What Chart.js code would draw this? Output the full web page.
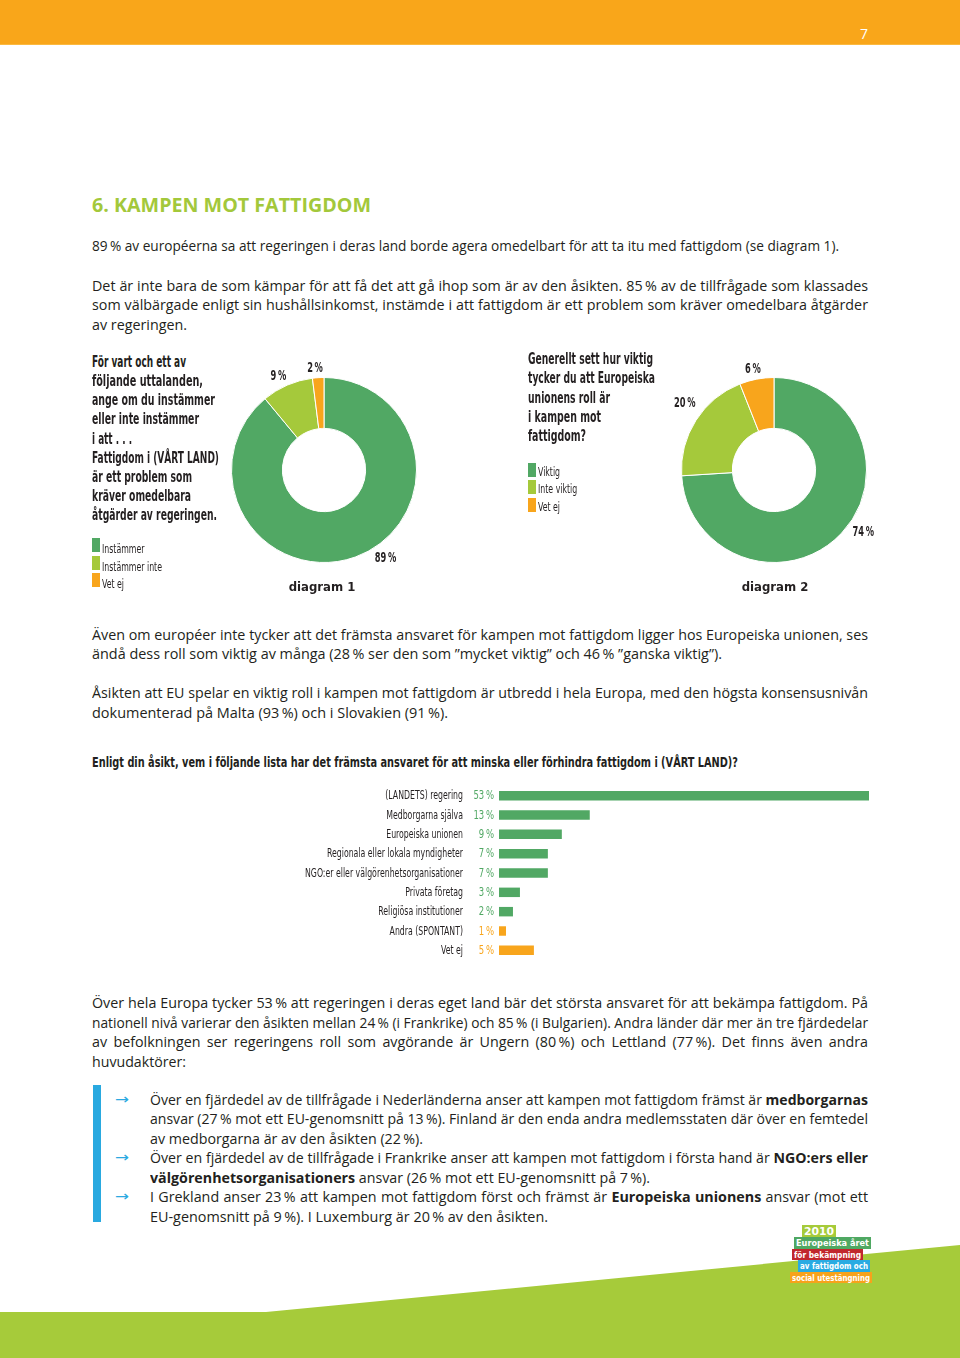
<!DOCTYPE html>
<html lang="sv">
<head>
<meta charset="utf-8">
<title>6. Kampen mot fattigdom</title>
<script src="https://cdn.jsdelivr.net/npm/chart.js@4.4.1/dist/chart.umd.min.js"></script>
<style>
html,body{margin:0;padding:0;background:#fff;}
#page{position:relative;width:960px;height:1358px;overflow:hidden;background:#fff;}
.ln{position:absolute;white-space:nowrap;font-family:'Open Sans',sans-serif;font-size:14.3px;line-height:19px;color:#231F20;}
.ln b{font-weight:700;}
.h{font-weight:700;font-size:19.5px;line-height:24px;color:#A3C83B;}
.q{font-family:'Liberation Sans Narrow','DejaVu Sans Condensed',sans-serif;font-stretch:condensed;font-weight:700;font-size:16px;line-height:19px;}
.t{font-family:'Liberation Sans Narrow','DejaVu Sans Condensed',sans-serif;font-stretch:condensed;font-weight:700;font-size:14.5px;}
.d{font-family:'Liberation Sans Narrow','DejaVu Sans Condensed',sans-serif;font-stretch:condensed;font-weight:700;font-size:13px;}
.lg{font-family:'Liberation Sans Narrow','DejaVu Sans Condensed',sans-serif;font-stretch:condensed;font-size:13px;line-height:15px;}
.ar{font-family:'DejaVu Sans',sans-serif;font-size:14px;color:#2BA9E1;}
.pn{color:#fff;font-size:14px;}
#topbar{position:absolute;left:0;top:0;width:960px;height:44px;background:#F9A61A;border-bottom:1px solid #FBB940;}
#ground{position:absolute;left:0;top:1240px;width:960px;height:118px;background:#A6CB3A;
  clip-path:polygon(0 72px,266px 72px,960px 5px,960px 118px,0 118px);}
#bluebar{position:absolute;left:93px;top:1085px;width:8px;height:137px;background:#29A9E0;}
.chartbox{position:absolute;}
.sw{position:absolute;width:8px;height:14px;}
.logo{position:absolute;color:#fff;font-family:'Liberation Sans Narrow','DejaVu Sans Condensed',sans-serif;font-stretch:condensed;font-weight:700;white-space:nowrap;overflow:hidden;}
.logo span{position:absolute;top:0;transform-origin:0 0;}
</style>
</head>
<body>
<div id="page">
  <div id="topbar"></div>
  <div id="ground"></div>
  <div id="bluebar"></div>
  <div class="chartbox" style="left:194px;top:345px;width:260px;height:250px;"><canvas id="donut1"></canvas></div>
  <div class="chartbox" style="left:644px;top:345px;width:260px;height:250px;"><canvas id="donut2"></canvas></div>
  <div class="chartbox" style="left:290px;top:786px;width:579px;height:174px;"><canvas id="bars"></canvas></div>
</div>
<script>
// ---------------- DATA ----------------
const donut1Labels = ['Instämmer', 'Instämmer inte', 'Vet ej'];
const donut1Values = [89, 9, 2];
const donut2Labels = ['Viktig', 'Inte viktig', 'Vet ej'];
const donut2Values = [74, 20, 6];
const barCategories = [
  '(LANDETS) regering',
  'Medborgarna själva',
  'Europeiska unionen',
  'Regionala eller lokala myndigheter',
  'NGO:er eller välgörenhetsorganisationer',
  'Privata företag',
  'Religiösa institutioner',
  'Andra (SPONTANT)',
  'Vet ej'
];
const barValues = [53, 13, 9, 7, 7, 3, 2, 1, 5];
const percentSuffix = '\u2009%';

// ---------------- STYLE ----------------
const GREEN = '#51A864', LIGHT = '#A5C93B', ORANGE = '#F8A51C', INK = '#231F20';
const COND = "'Liberation Sans Narrow','DejaVu Sans Condensed',sans-serif";
const sliceColors = [GREEN, LIGHT, ORANGE];
const barColors = barCategories.map((c, i) => i < 7 ? GREEN : ORANGE);

const page = document.getElementById('page');

function placeLine(spec) {
  const [html, x, base, w, mode, cls] = spec;
  const el = document.createElement('div');
  el.className = 'ln ' + (cls || '');
  el.innerHTML = html;
  el.style.left = '0px'; el.style.top = '0px';
  page.appendChild(el);
  const m = document.createElement('span');
  m.style.cssText = 'display:inline-block;width:0;height:0;vertical-align:baseline;';
  el.appendChild(m);
  const bo = m.offsetTop;
  el.removeChild(m);
  el.style.top = (base - bo) + 'px';
  const nat = el.getBoundingClientRect().width;
  let left = x;
  if (mode === 'c') { left = x - nat / 2; }
  else if (mode === 'k') {
    el.style.transformOrigin = '0 0';
    el.style.transform = 'scaleX(' + w + ')';
  }
  else if (w) {
    if (mode === 'j' && nat < w) {
      const n = (el.textContent.match(/ /g) || []).length;
      if (n) el.style.wordSpacing = ((w - nat) / n) + 'px';
    } else {
      el.style.transformOrigin = '0 0';
      el.style.transform = 'scaleX(' + (w / nat) + ')';
    }
  }
  el.style.left = left + 'px';
  return el;
}

const S = '\u2009';
const lines = [
  ['7', 864, 39, 0, 'c', 'pn'],
  ['6. KAMPEN MOT FATTIGDOM', 92, 211.5, 279, 's', 'h'],
  ['89' + S + '% av européerna sa att regeringen i deras land borde agera omedelbart för att ta itu med fattigdom (se diagram 1).', 92, 251, 747, 's'],
  ['Det är inte bara de som kämpar för att få det att gå ihop som är av den åsikten. 85' + S + '% av de tillfrågade som klassades', 92, 290.8, 776, 'j'],
  ['som välbärgade enligt sin hushållsinkomst, instämde i att fattigdom är ett problem som kräver omedelbara åtgärder', 92, 310.3, 776, 'j'],
  ['av regeringen.', 92, 329.8, 95, 's'],
  // question 1
  ['För vart och ett av', 92, 366.7, 94, 's', 'q'],
  ['följande uttalanden,', 92, 385.9, 111, 's', 'q'],
  ['ange om du instämmer', 92, 405.1, 123, 's', 'q'],
  ['eller inte instämmer', 92, 424.3, 107, 's', 'q'],
  ['i att  . . .', 92, 443.5, 40, 's', 'q'],
  ['Fattigdom i (VÅRT LAND)', 92, 462.7, 127, 's', 'q'],
  ['är ett problem som', 92, 481.9, 100, 's', 'q'],
  ['kräver omedelbara', 92, 501.1, 99, 's', 'q'],
  ['åtgärder av regeringen.', 92, 520.3, 125, 's', 'q'],
  // question 2
  ['Generellt sett hur viktig', 528, 364, 125, 's', 'q'],
  ['tycker du att Europeiska', 528, 383.3, 127, 's', 'q'],
  ['unionens roll är', 528, 402.6, 82, 's', 'q'],
  ['i kampen mot', 528, 421.9, 73, 's', 'q'],
  ['fattigdom?', 528, 441.2, 58, 's', 'q'],
  ['diagram 1', 322, 591, 0, 'c', 'd'],
  ['diagram 2', 775, 591, 0, 'c', 'd'],
  // paragraphs
  ['Även om européer inte tycker att det främsta ansvaret för kampen mot fattigdom ligger hos Europeiska unionen, ses', 92, 639.5, 776, 'j'],
  ['ändå dess roll som viktig av många (28' + S + '% ser den som ”mycket viktig” och 46' + S + '% ”ganska viktig”).', 92, 659, 630, 's'],
  ['Åsikten att EU spelar en viktig roll i kampen mot fattigdom är utbredd i hela Europa, med den högsta konsensusnivån', 92, 698, 776, 'j'],
  ['dokumenterad på Malta (93' + S + '%) och i Slovakien (91' + S + '%).', 92, 717.5, 356, 's'],
  ['Enligt din åsikt, vem i följande lista har det främsta ansvaret för att minska eller förhindra fattigdom i (VÅRT LAND)?', 92, 767, 646, 's', 't'],
  ['Över hela Europa tycker 53' + S + '% att regeringen i deras eget land bär det största ansvaret för att bekämpa fattigdom. På', 92, 1008.3, 776, 'j'],
  ['nationell nivå varierar den åsikten mellan 24' + S + '% (i Frankrike) och 85' + S + '% (i Bulgarien). Andra länder där mer än tre fjärdedelar', 92, 1027.8, 776, 'j'],
  ['av befolkningen ser regeringens roll som avgörande är Ungern (80' + S + '%) och Lettland (77' + S + '%). Det finns även andra', 92, 1047.3, 776, 'j'],
  ['huvudaktörer:', 92, 1066.8, 94, 's'],
  // bullets
  ['→', 115, 1103.5, 14, 's', 'ar'],
  ['→', 115, 1161.5, 14, 's', 'ar'],
  ['→', 115, 1200.5, 14, 's', 'ar'],
  ['Över en fjärdedel av de tillfrågade i Nederländerna anser att kampen mot fattigdom främst är <b>medborgarnas</b>', 150, 1104.5, 718, 'j'],
  ['ansvar (27' + S + '% mot ett EU-genomsnitt på 13' + S + '%). Finland är den enda andra medlemsstaten där över en femtedel', 150, 1124, 718, 'j'],
  ['av medborgarna är av den åsikten (22' + S + '%).', 150, 1143.5, 273, 's'],
  ['Över en fjärdedel av de tillfrågade i Frankrike anser att kampen mot fattigdom i första hand är <b>NGO:ers eller</b>', 150, 1163, 718, 'j'],
  ['<b>välgörenhetsorganisationers</b> ansvar (26' + S + '% mot ett EU-genomsnitt på 7' + S + '%).', 150, 1182.5, 500, 's'],
  ['I Grekland anser 23' + S + '% att kampen mot fattigdom först och främst är <b>Europeiska unionens</b> ansvar (mot ett', 150, 1202, 718, 'j'],
  ['EU-genomsnitt på 9' + S + '%). I Luxemburg är 20' + S + '% av den åsikten.', 150, 1221.5, 398, 's']
];
lines.forEach(placeLine);

// legends built from the chart label arrays (common horizontal condensation)
function measureLegend(text) {
  const el = placeLine([text, 0, -100, 0, 'n', 'lg']);
  const w = el.getBoundingClientRect().width;
  el.remove();
  return w;
}
const legendScale = 60 / measureLegend(donut1Labels[1]);
function legend(labels, x, firstTop, firstBase) {
  labels.forEach((lab, i) => {
    const sw = document.createElement('div');
    sw.className = 'sw';
    sw.style.left = x + 'px';
    sw.style.top = (firstTop + i * 17.6) + 'px';
    sw.style.background = sliceColors[i];
    page.appendChild(sw);
    placeLine([lab, x + 9.5, firstBase + i * 17.6, legendScale, 'k', 'lg']);
  });
}
legend(donut1Labels, 92, 538, 553);
legend(donut2Labels, 528, 462.5, 475.8);

// EU year logo
const logoBoxes = [
  ['2010', 802, 1225, 34, 12, '#A6CB3A', 10.5],
  ['Europeiska året', 794, 1237, 77, 12, '#4FA862', 9.5],
  ['för bekämpning', 792, 1249, 71, 11, '#C1272D', 9.5],
  ['av fattigdom och', 798, 1260, 72, 12, '#29ABE2', 9.5],
  ['social utestängning', 790, 1272, 82, 11, '#F7A21B', 9.5]
];
logoBoxes.forEach(([txt, l, t, w, h, bg, fs]) => {
  const b = document.createElement('div');
  b.className = 'logo';
  b.style.cssText += `left:${l}px;top:${t}px;width:${w}px;height:${h}px;background:${bg};font-size:${fs}px;line-height:${h}px;`;
  const sp = document.createElement('span');
  sp.textContent = txt;
  b.appendChild(sp);
  page.appendChild(b);
  const nat = sp.getBoundingClientRect().width;
  const s = (w - 4) / nat;
  sp.style.left = '2px';
  sp.style.transform = `scaleX(${s})`;
});

// ---------------- CHARTS ----------------
const donutLabelPlugin = {
  id: 'donutLabels',
  afterDatasetsDraw(chart, args, opts) {
    const meta = chart.getDatasetMeta(0);
    const ctx = chart.ctx;
    ctx.save();
    ctx.font = `700 14px ${COND}`;
    ctx.fillStyle = INK;
    ctx.textAlign = 'center';
    ctx.textBaseline = 'middle';
    const sx = opts.refWidth / ctx.measureText('89' + percentSuffix).width;
    meta.data.forEach((arc, i) => {
      const p = arc.getProps(['x', 'y', 'startAngle', 'endAngle', 'outerRadius'], true);
      const a = p.startAngle + (p.endAngle - p.startAngle) * opts.fractions[i];
      const r = p.outerRadius + opts.gaps[i];
      ctx.save();
      ctx.translate(p.x + Math.cos(a) * r, p.y + Math.sin(a) * r);
      ctx.scale(sx, 1);
      ctx.fillText(chart.data.datasets[0].data[i] + percentSuffix, 0, 0);
      ctx.restore();
    });
    ctx.restore();
  }
};

function donut(id, labels, values, fractions, gaps) {
  return new Chart(document.getElementById(id), {
    type: 'doughnut',
    data: { labels: labels, datasets: [{ data: values, backgroundColor: sliceColors, borderColor: '#ffffff', borderWidth: 1, hoverOffset: 0 }] },
    options: {
      responsive: true, maintainAspectRatio: false, animation: false, events: [],
      cutout: '45%', rotation: 0,
      layout: { padding: { left: 37, right: 37, top: 32, bottom: 32 } },
      plugins: { legend: { display: false }, tooltip: { enabled: false },
        donutLabels: { fractions: fractions, gaps: gaps, refWidth: 21.5 } }
    },
    plugins: [donutLabelPlugin]
  });
}
donut('donut1', donut1Labels, donut1Values, [0.453, 0.42, 0.3], [15, 11.5, 10]);
donut('donut2', donut2Labels, donut2Values, [0.469, 0.5625, 0.45], [16.5, 19, 10]);

// category + value labels drawn at the y-scale tick positions
const barLabelPlugin = {
  id: 'barLabels',
  afterDatasetsDraw(chart, args, opts) {
    const ctx = chart.ctx, ys = chart.scales.y, left = chart.chartArea.left;
    const labels = chart.data.labels, data = chart.data.datasets[0].data;
    ctx.save();
    ctx.font = `400 12.5px ${COND}`;
    ctx.textBaseline = 'middle';
    ctx.textAlign = 'right';
    const widest = Math.max(...labels.map(l => ctx.measureText(l).width));
    const sxLab = opts.widestLabel / widest;
    const sxVal = opts.valueWidth / ctx.measureText('53' + percentSuffix).width;
    labels.forEach((lab, i) => {
      const y = ys.getPixelForTick(i) + 0.5;
      ctx.save();
      ctx.translate(left - 36, y);
      ctx.scale(sxLab, 1);
      ctx.fillStyle = INK;
      ctx.fillText(lab, 0, 0);
      ctx.restore();
      ctx.save();
      ctx.translate(left - 5, y);
      ctx.scale(sxVal, 1);
      ctx.fillStyle = barColors[i];
      ctx.fillText(data[i] + percentSuffix, 0, 0);
      ctx.restore();
    });
    ctx.restore();
  }
};

new Chart(document.getElementById('bars'), {
  type: 'bar',
  data: { labels: barCategories, datasets: [{ data: barValues, backgroundColor: barColors, barPercentage: 0.49, categoryPercentage: 1, borderWidth: 0 }] },
  options: {
    indexAxis: 'y', responsive: true, maintainAspectRatio: false, animation: false, events: [],
    layout: { padding: 0 },
    plugins: { legend: { display: false }, tooltip: { enabled: false },
      barLabels: { widestLabel: 158, valueWidth: 20.6 } },
    scales: {
      x: { display: false, min: 0, max: Math.max(...barValues) },
      y: {
        grid: { display: false, drawTicks: false }, border: { display: false },
        ticks: { display: false, padding: 0 },
        afterFit(scale) { scale.width = 209; scale.paddingTop = 0; scale.paddingBottom = 0; }
      }
    }
  },
  plugins: [barLabelPlugin]
});
</script>
</body>
</html>
